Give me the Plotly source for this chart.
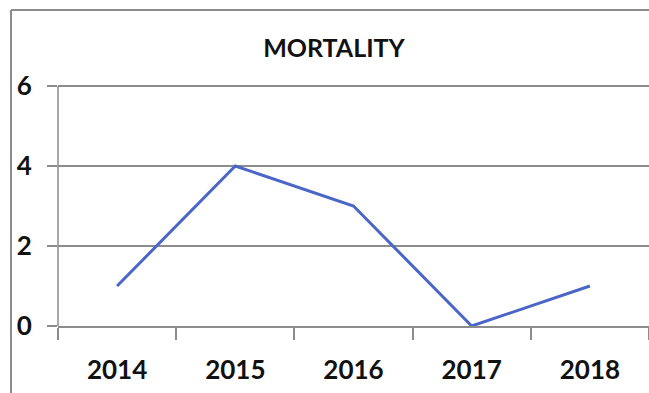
import plotly.graph_objects as go

years = ["2014", "2015", "2016", "2017", "2018"]
mortality = [1, 4, 3, 0, 1]
y_ticks = [0, 2, 4, 6]

W, H = 649, 393
L, R, T, B = 58, 0, 74, 67
pw = W - L - R
ph = H - T - B

fig = go.Figure()
fig.add_trace(go.Scatter(
    x=years, y=mortality, mode="lines",
    line=dict(color="#4A66C6", width=3),
    hoverinfo="skip", showlegend=False,
))

grid = "#8c8c8c"
font_family = "Lato, 'Open Sans', sans-serif"
tfont = dict(family=font_family, size=26, color="#111111", weight="bold")

fig.update_layout(
    width=W, height=H,
    margin=dict(l=L, r=R, t=T, b=B),
    paper_bgcolor="white", plot_bgcolor="white",
    title=dict(text="MORTALITY", x=334 / W, xanchor="center",
               y=1 - 48 / H, yanchor="middle",
               font=dict(family=font_family, size=25, color="#111111", weight="bold")),
    xaxis=dict(type="category", range=[-0.5, 4.5], showgrid=False,
               showline=True, linecolor=grid, linewidth=2,
               ticks="outside", tickson="boundaries", ticklen=12,
               tickcolor=grid, tickwidth=1.5,
               tickfont=tfont,
               ticklabelstandoff=20),
    yaxis=dict(range=[0, 6.3], tickvals=y_ticks, showgrid=True,
               gridcolor=grid, gridwidth=2,
               zeroline=False,
               showline=False,
               ticks="outside", ticklen=10, tickcolor=grid, tickwidth=2,
               tickfont=tfont,
               ticklabelstandoff=10),
)

# y-axis line from the top gridline down to the x-axis tick ends
fig.add_shape(type="line", xref="paper", yref="y",
              x0=0, x1=0, y0=6, y1=-12 / 40,
              line=dict(color=grid, width=1.5))

# outer chart border (left and top edges visible)
bx = (11 - L) / pw
by = (H - B - 10) / ph
fig.add_shape(type="line", xref="paper", yref="paper",
              x0=bx, x1=bx, y0=by, y1=-1, line=dict(color=grid, width=2))
fig.add_shape(type="line", xref="paper", yref="paper",
              x0=bx, x1=1.2, y0=by, y1=by, line=dict(color=grid, width=2))

fig.write_html("out.html")
